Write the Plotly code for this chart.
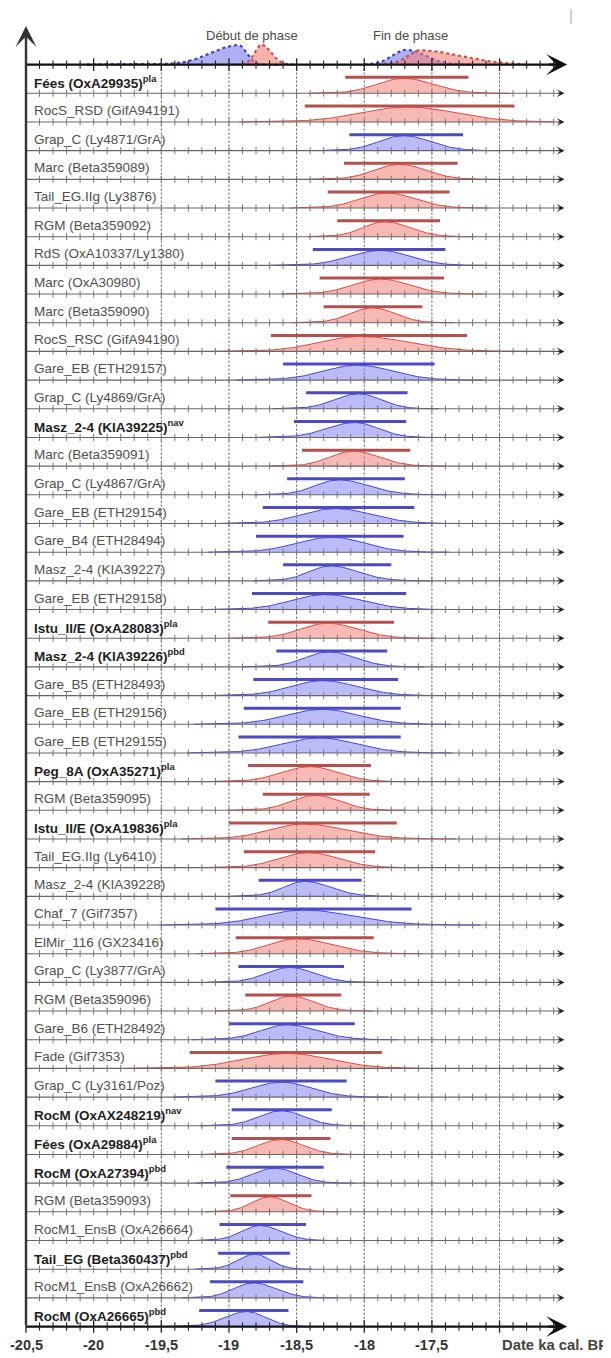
import numpy as np
import plotly.graph_objects as go

# ---------------- data ----------------
labels = [
    "Fées (OxA29935)", "RocS_RSD (GifA94191)", "Grap_C (Ly4871/GrA)", "Marc (Beta359089)",
    "Tail_EG.IIg (Ly3876)", "RGM (Beta359092)", "RdS (OxA10337/Ly1380)", "Marc (OxA30980)",
    "Marc (Beta359090)", "RocS_RSC (GifA94190)", "Gare_EB (ETH29157)", "Grap_C (Ly4869/GrA)",
    "Masz_2-4 (KIA39225)", "Marc (Beta359091)", "Grap_C (Ly4867/GrA)", "Gare_EB (ETH29154)",
    "Gare_B4 (ETH28494)", "Masz_2-4 (KIA39227)", "Gare_EB (ETH29158)", "Istu_II/E (OxA28083)",
    "Masz_2-4 (KIA39226)", "Gare_B5 (ETH28493)", "Gare_EB (ETH29156)", "Gare_EB (ETH29155)",
    "Peg_8A (OxA35271)", "RGM (Beta359095)", "Istu_II/E (OxA19836)", "Tail_EG.IIg (Ly6410)",
    "Masz_2-4 (KIA39228)", "Chaf_7 (Gif7357)", "ElMir_116 (GX23416)", "Grap_C (Ly3877/GrA)",
    "RGM (Beta359096)", "Gare_B6 (ETH28492)", "Fade (Gif7353)", "Grap_C (Ly3161/Poz)",
    "RocM (OxAX248219)", "Fées (OxA29884)", "RocM (OxA27394)", "RGM (Beta359093)",
    "RocM1_EnsB (OxA26664)", "Tail_EG (Beta360437)", "RocM1_EnsB (OxA26662)", "RocM (OxA26665)",
]
sups = [
    "pla", "", "", "", "", "", "", "", "", "", "", "",
    "nav", "", "", "", "", "", "", "pla", "pbd", "", "", "",
    "pla", "", "pla", "", "", "", "", "", "", "", "", "",
    "nav", "pla", "pbd", "", "", "pbd", "", "pbd",
]
groups = [
    "r", "r", "b", "r", "r", "r", "b", "r", "r", "r", "b", "b",
    "b", "r", "b", "b", "b", "b", "b", "r", "b", "b", "b", "b",
    "r", "r", "r", "r", "b", "b", "r", "b", "r", "b", "r", "b",
    "b", "r", "b", "r", "b", "b", "b", "b",
]
lo = [
    -18.14, -18.44, -18.11, -18.15, -18.27, -18.20, -18.38, -18.33, -18.30, -18.69, -18.60, -18.43,
    -18.52, -18.46, -18.57, -18.75, -18.80, -18.60, -18.83, -18.71, -18.65, -18.82, -18.89, -18.93,
    -18.86, -18.75, -19.00, -18.89, -18.78, -19.10, -18.95, -18.93, -18.88, -19.00, -19.29, -19.10,
    -18.98, -18.98, -19.02, -18.99, -19.07, -19.08, -19.14, -19.22,
]
hi = [
    -17.23, -16.89, -17.27, -17.31, -17.37, -17.44, -17.40, -17.41, -17.57, -17.24, -17.48, -17.68,
    -17.69, -17.66, -17.70, -17.63, -17.71, -17.80, -17.69, -17.78, -17.83, -17.75, -17.73, -17.73,
    -17.95, -17.96, -17.76, -17.92, -18.02, -17.65, -17.93, -18.15, -18.17, -18.07, -17.87, -18.13,
    -18.24, -18.25, -18.30, -18.39, -18.43, -18.55, -18.45, -18.56,
]
peak = [
    -17.71, -17.68, -17.71, -17.74, -17.83, -17.85, -17.88, -17.88, -17.94, -18.03, -18.05, -18.04,
    -18.07, -18.08, -18.19, -18.21, -18.24, -18.25, -18.29, -18.27, -18.26, -18.31, -18.31, -18.33,
    -18.40, -18.36, -18.45, -18.41, -18.44, -18.45, -18.50, -18.55, -18.54, -18.57, -18.57, -18.61,
    -18.61, -18.62, -18.66, -18.70, -18.77, -18.81, -18.82, -18.87,
]

phase_names = ["Début de phase", "Fin de phase"]
phase_name_x = [-18.83, -17.66]
phase_group = ["b", "r", "b", "r"]
phase_peak = [-18.93, -18.76, -17.69, -17.59]
phase_sl = [0.20, 0.05, 0.10, 0.09]
phase_sr = [0.06, 0.07, 0.14, 0.30]
phase_amp = [0.68, 0.70, 0.52, 0.50]
phase_from = [-20.05, -18.95, -18.00, -17.90]
phase_to = [-18.62, -18.52, -17.20, -16.80]

tick_vals = [-20.5, -20, -19.5, -19, -18.5, -18, -17.5]
tick_text = ["-20,5", "-20", "-19,5", "-19", "-18,5", "-18", "-17,5"]
grid_vals = [-19.5, -19, -18.5, -18, -17.5, -17]
x_title = "Date ka cal. BP"

# ---------------- geometry / style ----------------
WIN_W, WIN_H = 611, 1358
OFF = 8                      # default page margin around the figure
W, H = WIN_W - OFF, WIN_H - OFF
PX_PER_UNIT = 135.3
X_LEFT_PX = 26.0 - OFF       # pixel position of -20.5 inside the figure
ROW0_PX = 93.3               # window pixel of row 0 baseline
ROW_PX = 28.68


def ypx(px):
    """window pixel row -> data y"""
    return (px - ROW0_PX) / ROW_PX


X_MIN = -20.5 - X_LEFT_PX / PX_PER_UNIT
X_MAX = -20.5 + (W - X_LEFT_PX) / PX_PER_UNIT
Y_TOP = ypx(OFF)
Y_BOT = ypx(OFF + H)
n = len(labels)
TOP_Y = -1
BOT_Y = n - 1
AXIS_END = -16.5
ROW_END = -16.52
AMP = 15 / ROW_PX
BAR_OFF = 16 / ROW_PX
LABEL_OFF = 11.5 / ROW_PX
FONT = "Liberation Sans, Arial, sans-serif"

fill_col = {"r": "rgba(240,128,118,0.55)", "b": "rgba(120,120,240,0.50)"}
line_col = {"r": "#e04a42", "b": "#4646e0"}
bar_col = {"r": "#b4514e", "b": "#4b4bc4"}
phase_fill = {"r": "rgba(240,128,118,0.6)", "b": "rgba(110,110,235,0.55)"}
phase_line = {"r": "#c8504a", "b": "#4040c8"}

fig = go.Figure()

# phase curves at the top axis
for k in range(len(phase_peak)):
    xs = np.linspace(phase_from[k], phase_to[k], 200)
    s = np.where(xs < phase_peak[k], phase_sl[k], phase_sr[k])
    ys = TOP_Y - phase_amp[k] * np.exp(-0.5 * ((xs - phase_peak[k]) / s) ** 2)
    g = phase_group[k]
    fig.add_trace(go.Scatter(
        x=np.r_[xs[0], xs, xs[-1]], y=np.r_[TOP_Y, ys, TOP_Y],
        mode="lines", fill="toself", fillcolor=phase_fill[g],
        line=dict(color=phase_line[g], width=2.2, dash="dot"),
        hoverinfo="skip", showlegend=False))

# interval bars
for g in ("r", "b"):
    bx, by = [], []
    for i in range(n):
        if groups[i] == g:
            bx += [lo[i], hi[i], None]
            by += [i - BAR_OFF, i - BAR_OFF, None]
    fig.add_trace(go.Scatter(x=bx, y=by, mode="lines",
                             line=dict(color=bar_col[g], width=3),
                             hoverinfo="skip", showlegend=False))

# distributions
for i in range(n):
    sl = (peak[i] - lo[i]) / 2.2
    sr = (hi[i] - peak[i]) / 2.2
    a = max(-20.5, peak[i] - 3.6 * sl)
    b = min(-16.6, peak[i] + 3.6 * sr)
    xs = np.linspace(a, b, 160)
    s = np.where(xs < peak[i], sl, sr)
    ys = i - AMP * np.exp(-0.5 * ((xs - peak[i]) / s) ** 2)
    g = groups[i]
    fig.add_trace(go.Scatter(
        x=np.r_[a, xs, b], y=np.r_[i, ys, i],
        mode="lines", fill="toself", fillcolor=fill_col[g],
        line=dict(color=line_col[g], width=1),
        hoverinfo="skip", showlegend=False))

# row axis lines
rx, ry = [], []
for i in range(n - 1):
    rx += [-20.5, ROW_END - 0.03, None]
    ry += [i, i, None]
fig.add_trace(go.Scatter(x=rx, y=ry, mode="lines",
                         line=dict(color="#666", width=1.1),
                         hoverinfo="skip", showlegend=False))

# minor ticks on row lines
minor = np.round(np.arange(-20.5, -16.55, 0.1), 2)
tx = np.tile(minor, n - 1)
ty = np.repeat(np.arange(n - 1), len(minor))
fig.add_trace(go.Scatter(x=tx, y=ty, mode="markers",
                         marker=dict(symbol="line-ns", size=5,
                                     line=dict(color="#777", width=1)),
                         hoverinfo="skip", showlegend=False))

# main axes (top and bottom) lines and ticks
major = [v for v in minor if abs(v * 2 - round(v * 2)) < 1e-6]
mnr = [v for v in minor if abs(v * 2 - round(v * 2)) >= 1e-6]
for yv in (TOP_Y, BOT_Y):
    fig.add_trace(go.Scatter(x=[-20.5, AXIS_END - 0.08], y=[yv, yv], mode="lines",
                             line=dict(color="#111", width=2.2),
                             hoverinfo="skip", showlegend=False))
    fig.add_trace(go.Scatter(x=mnr, y=[yv] * len(mnr), mode="markers",
                             marker=dict(symbol="line-ns", size=6,
                                         line=dict(color="#222", width=1.1)),
                             hoverinfo="skip", showlegend=False, cliponaxis=False))
    fig.add_trace(go.Scatter(x=major, y=[yv] * len(major), mode="markers",
                             marker=dict(symbol="line-ns", size=9,
                                         line=dict(color="#222", width=1.3)),
                             hoverinfo="skip", showlegend=False, cliponaxis=False))

# dashed vertical grid
shapes = []
for v in grid_vals:
    shapes.append(dict(type="line", xref="x", yref="y", x0=v, x1=v, y0=TOP_Y, y1=BOT_Y,
                       line=dict(color="#555", width=1, dash="2px,2px"), layer="below"))
# faint screenshot edge at the top right
shapes.append(dict(type="line", xref="paper", yref="y",
                   x0=(571 - OFF) / W, x1=(571 - OFF) / W,
                   y0=ypx(9), y1=ypx(24),
                   line=dict(color="#d0d0d0", width=2)))

ann = []
# arrowheads on row lines
for i in range(n - 1):
    ann.append(dict(x=ROW_END, y=i, ax=ROW_END - 0.06, ay=i, xref="x", yref="y",
                    axref="x", ayref="y", text="", showarrow=True, arrowhead=3,
                    arrowsize=1.35, arrowwidth=1, arrowcolor="#222"))
# big arrowheads for main axes
for yv in (TOP_Y, BOT_Y):
    ann.append(dict(x=AXIS_END, y=yv, ax=AXIS_END - 0.15, ay=yv, xref="x", yref="y",
                    axref="x", ayref="y", text="", showarrow=True, arrowhead=3,
                    arrowsize=1.6, arrowwidth=2.2, arrowcolor="#111"))
# vertical axis
ann.append(dict(x=-20.5, y=ypx(26), ax=-20.5, ay=BOT_Y, xref="x", yref="y",
                axref="x", ayref="y", text="", showarrow=True, arrowhead=3,
                arrowsize=1.45, arrowwidth=2.4, arrowcolor="#333"))

# row labels
for i in range(n):
    if sups[i]:
        txt = f"<b>{labels[i]}<sup>{sups[i]}</sup></b>"
        col = "#1e1e1e"
    else:
        txt = labels[i]
        col = "#505050"
    ann.append(dict(x=-20.456, y=i - LABEL_OFF, xref="x", yref="y", text=txt,
                    showarrow=False, xanchor="left", yanchor="middle",
                    font=dict(family=FONT, size=13.5, color=col)))

# tick labels
TL_Y = ypx(1345)
for v, t in zip(tick_vals, tick_text):
    ann.append(dict(x=v, y=TL_Y, xref="x", yref="y", text=f"<b>{t}</b>",
                    showarrow=False, xanchor="center", yanchor="middle",
                    font=dict(family=FONT, size=14.5, color="#333")))
ann.append(dict(x=-17.0, y=TL_Y, xref="x", yref="y", text=f"<b>{x_title}</b>",
                showarrow=False, xanchor="left", yanchor="middle",
                font=dict(family=FONT, size=14.8, color="#444")))

# phase names
for nm, xv in zip(phase_names, phase_name_x):
    ann.append(dict(x=xv, y=ypx(35), xref="x", yref="y", text=nm,
                    showarrow=False, xanchor="center", yanchor="middle",
                    font=dict(family=FONT, size=13, color="#4a4a4a")))

fig.update_layout(
    width=W, height=H, margin=dict(l=0, r=0, t=0, b=0),
    paper_bgcolor="white", plot_bgcolor="white",
    xaxis=dict(range=[X_MIN, X_MAX], visible=False, fixedrange=True),
    yaxis=dict(range=[Y_BOT, Y_TOP], visible=False, fixedrange=True),
    shapes=shapes, annotations=ann, showlegend=False,
)

fig.write_html("out.html")
